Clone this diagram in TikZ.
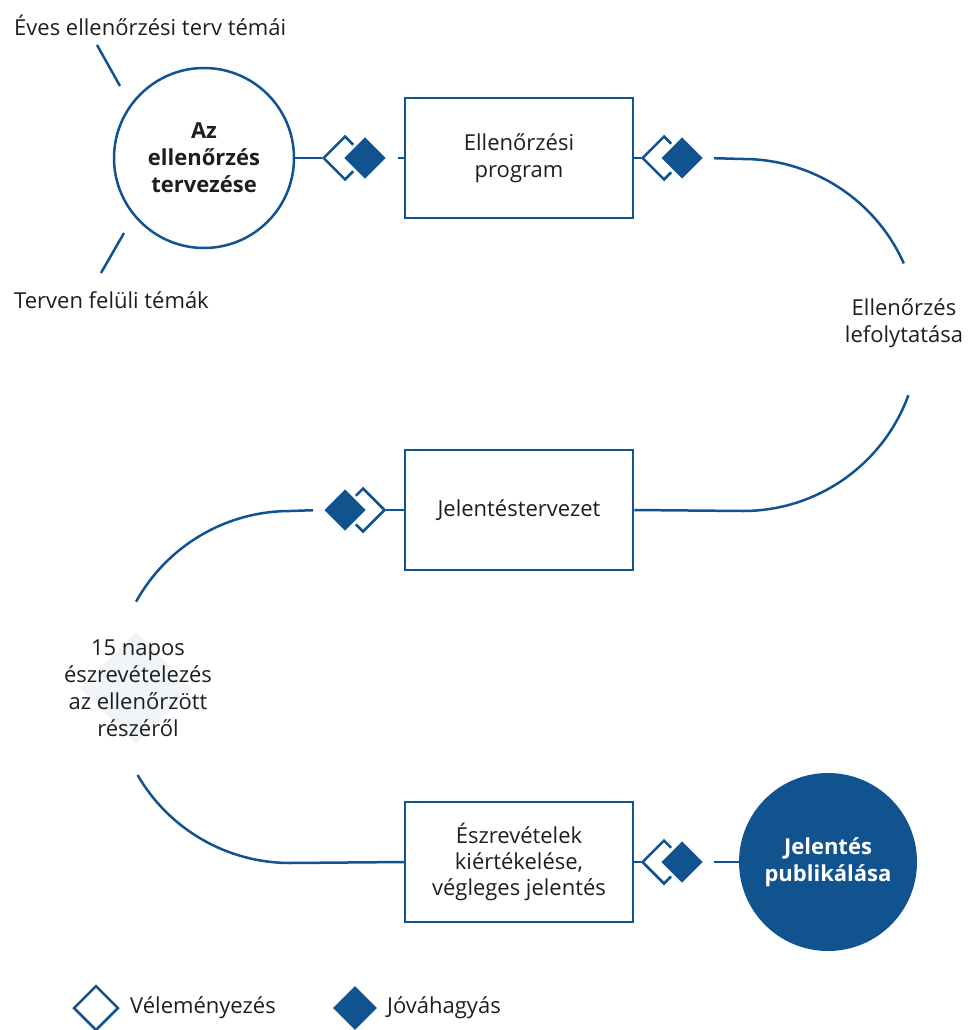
\documentclass[tikz,border=0pt]{standalone}
\usepackage{fontspec}
\setmainfont{Open Sans}
\usepackage{tikz}
\usetikzlibrary{shapes.geometric}
\definecolor{kekes}{HTML}{10538F}
\definecolor{szoveg}{HTML}{1E1E1E}
\definecolor{halvany}{HTML}{F1F4F8}

\tikzset{
  vonal/.style={draw=kekes, line width=2.5pt},
  doboz/.style={draw=kekes, line width=2.5pt, minimum width=228pt, minimum height=120pt, align=center, text=szoveg},
  velem/.style={diamond, draw=kekes, line width=2.5pt, minimum size=44pt, inner sep=0pt},
  jovah/.style={diamond, draw=white, line width=3pt, fill=kekes, minimum size=47pt, inner sep=0pt},
  felirat/.style={align=center, text=szoveg},
}

\begin{document}
\begin{tikzpicture}[x=1pt, y=-1pt, font=\fontsize{22}{27}\selectfont]

	    \useasboundingbox (0,0) rectangle (967,1030);

	    % halvany hatter a bal iv mogott
	    \node[diamond, fill=halvany, minimum size=112pt, inner sep=0pt] (hatter) at (136,688) {};

	    \node[circle, draw=kekes, line width=2.5pt, minimum size=180pt, align=center, text=szoveg] (terv) at (204,158) {\bfseries Az\\\bfseries ellenőrzés\\\bfseries tervezése};
	    \node[doboz] (prog) at (519,158) {Ellenőrzési\\program};
	    \node[doboz] (jelt) at (519,510) {Jelentéstervezet};
	    \node[doboz, font=\fontsize{22}{26}\selectfont] (vegl) at (519,862) {Észrevételek\\kiértékelése,\\végleges jelentés};
	    \node[circle, fill=kekes, minimum size=178pt, align=center, text=white] (publ) at (828,862) {\bfseries Jelentés\\\bfseries publikálása};

	    \node[felirat, anchor=west, inner sep=0pt] (eves) at (14,25) {Éves ellenőrzési terv témái};
	    \node[felirat, anchor=west, inner sep=0pt] (felul) at (14,300) {Terven felüli témák};
	    \node[felirat] (lefoly) at (904,323) {Ellenőrzés\\lefolytatása};
	    \node[felirat] (napos) at (138,688) {15 napos\\észrevételezés\\az ellenőrzött\\részéről};

	    \coordinate (e1) at (97,45);
	    \coordinate (e2) at (120,86);
	    \coordinate (t1) at (124,233);
	    \coordinate (t2) at (101,273);
	    \draw[vonal] (e1)--(e2);
	    \draw[vonal] (t1)--(t2);

	    % velemenyezes + jovahagyas jelek
	    \node[velem] (v1) at (345,158) {};
	    \node[jovah] (f1) at (365,158) {};
	    \node[velem] (v2) at (664,158) {};
	    \node[jovah] (f2) at (682,158) {};
	    \node[velem] (v4) at (363,510) {};
	    \node[jovah] (f4) at (345,510) {};
	    \node[velem] (v3) at (664,862) {};
	    \node[jovah] (f3) at (682,862) {};

	    \draw[vonal] (terv)--(v1.west);
	    \draw[vonal, shorten >=8pt] (prog.west)--(f1.east);
	    \draw[vonal] (prog)--(v2.west);
	    \draw[vonal] (jelt)--(v4.east);
	    \draw[vonal] (vegl)--(v3.west);
	    \draw[vonal, shorten <=7pt] (f3.east)--(publ);

	    % ivek
	    \coordinate (jk) at (743,335);
	    \coordinate (bk) at (290,687);
	    \draw[vonal, shorten <=7pt] (f2.east) -- (743,159) arc[start angle=-90, end angle=-24, radius=176];
	    \draw[vonal] (jk) ++(20:176) arc[start angle=20, end angle=90, radius=176] -- (jelt.east);
	    \draw[vonal, shorten <=7pt] (f4.west) -- (290,511) arc[start angle=-90, end angle=-151, radius=176];
	    \draw[vonal] (bk) ++(150:176) arc[start angle=150, end angle=90, radius=176] -- (vegl.west);

	    % jelmagyarazat
	    \node[velem, minimum size=45pt] (jv) at (96,1008) {};
	    \node[felirat, anchor=west, inner sep=0pt] (jvt) at (130,1008) {Véleményezés};
	    \node[diamond, fill=kekes, minimum size=44pt, inner sep=0pt] (jj) at (355,1008) {};
	    \node[felirat, anchor=west, inner sep=0pt] (jjt) at (387,1008) {Jóváhagyás};

\end{tikzpicture}
\end{document}
